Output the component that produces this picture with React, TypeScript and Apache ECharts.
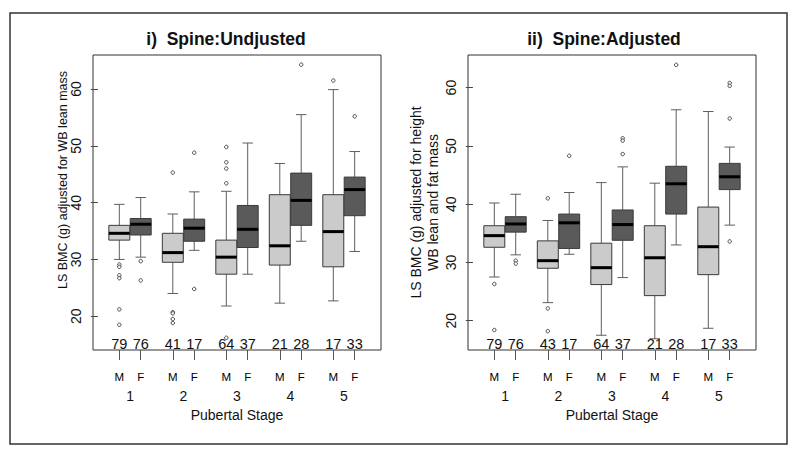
import React, { useEffect, useRef } from 'react';
import * as echarts from 'echarts';

const stages = ['1', '2', '3', '4', '5'];
const sexes = ['M', 'F'];
const xTitle = 'Pubertal Stage';

const titleUnadj = 'i)  Spine:Undjusted';
const titleAdj = 'ii)  Spine:Adjusted';
const yTitleUnadj = 'LS BMC (g) adjusted for WB lean mass';
const yTitleAdj1 = 'LS BMC (g) adjusted for height';
const yTitleAdj2 = 'WB lean and fat mass';

const yTicks = [20, 30, 40, 50, 60];

// Box order: M1, F1, M2, F2, ... M5, F5
// [lower whisker, Q1, median, Q3, upper whisker]
const unadjBoxes = [
  [30.0, 33.4, 34.6, 36.0, 39.7],
  [30.4, 34.3, 36.2, 37.2, 40.9],
  [24.0, 29.5, 31.2, 34.6, 38.0],
  [31.6, 33.2, 35.5, 37.1, 41.9],
  [21.8, 27.4, 30.4, 33.4, 42.0],
  [27.4, 32.1, 35.3, 39.5, 50.5],
  [22.3, 29.0, 32.4, 41.4, 46.9],
  [33.2, 36.0, 40.4, 45.2, 55.5],
  [22.7, 28.7, 34.9, 41.4, 59.9],
  [31.4, 37.7, 42.3, 44.5, 49.0],
];
const unadjOutliers = [
  [29.1, 28.7, 27.2, 26.7, 21.2, 18.5],
  [29.7, 26.3],
  [45.3, 20.7, 20.5, 19.5, 18.8],
  [48.8, 24.8],
  [49.8, 47.1, 46.0, 43.4, 16.2],
  [],
  [],
  [64.3],
  [61.5],
  [55.2],
];
const unadjCounts = [79, 76, 41, 17, 64, 37, 21, 28, 17, 33];

const adjBoxes = [
  [27.5, 32.6, 34.6, 36.3, 40.2],
  [31.3, 35.2, 36.6, 37.85, 41.7],
  [23.1, 29.0, 30.3, 33.7, 37.2],
  [31.4, 32.4, 36.8, 38.3, 42.0],
  [17.5, 26.2, 29.1, 33.3, 43.7],
  [27.4, 33.8, 36.5, 39.0, 46.4],
  [16.9, 24.3, 30.8, 36.3, 43.6],
  [33.0, 38.3, 43.5, 46.5, 56.2],
  [18.7, 27.9, 32.7, 39.5, 55.9],
  [36.4, 42.5, 44.7, 47.0, 49.8],
];
const adjOutliers = [
  [26.3, 18.4],
  [30.3, 29.8],
  [41.0, 22.1, 18.2],
  [48.3],
  [],
  [51.3, 50.9, 48.6],
  [],
  [63.9],
  [],
  [60.8, 60.3, 54.7, 33.6],
];
const adjCounts = [79, 76, 43, 17, 64, 37, 21, 28, 17, 33];

const FONT = 'Liberation Sans, Arial, Helvetica, sans-serif';
const LIGHT = '#cbcbcb';
const DARK = '#5a5a5a';
const BORDER = '#3a3a3a';
const WHISK = '#5e5e5e';

const posOf = (i: number) => Math.floor(i / 2) * 2.5 + (i % 2) + 1;
const positions = unadjBoxes.map((_, i) => posOf(i));
const stageCenters = stages.map((_, g) => g * 2.5 + 1.5);

function boxRender(params: any, api: any) {
  const x = api.value(0);
  const lo = api.coord([x, api.value(1)]);
  const q1 = api.coord([x, api.value(2)]);
  const md = api.coord([x, api.value(3)]);
  const q3 = api.coord([x, api.value(4)]);
  const hi = api.coord([x, api.value(5)]);
  const kind = api.value(6);
  const w = api.size([0.98, 0])[0];
  const half = w / 2;
  const cap = half / 2;
  const cx = lo[0];
  const ls = { stroke: WHISK, lineWidth: 1 };
  return {
    type: 'group',
    children: [
      { type: 'line', shape: { x1: cx, y1: hi[1], x2: cx, y2: q3[1] }, style: ls },
      { type: 'line', shape: { x1: cx, y1: lo[1], x2: cx, y2: q1[1] }, style: ls },
      { type: 'line', shape: { x1: cx - cap, y1: hi[1], x2: cx + cap, y2: hi[1] }, style: ls },
      { type: 'line', shape: { x1: cx - cap, y1: lo[1], x2: cx + cap, y2: lo[1] }, style: ls },
      {
        type: 'rect',
        shape: { x: cx - half, y: q3[1], width: w, height: q1[1] - q3[1] },
        style: { fill: kind === 0 ? LIGHT : DARK, stroke: BORDER, lineWidth: 1 },
      },
      {
        type: 'line',
        shape: { x1: cx - half, y1: md[1], x2: cx + half, y2: md[1] },
        style: { stroke: '#000', lineWidth: 3 },
      },
    ],
  };
}

function countRender(params: any, api: any) {
  const x = api.value(0);
  const yMin = api.value(2);
  const p = api.coord([x, yMin]);
  return {
    type: 'text',
    x: p[0],
    y: p[1] + 1,
    style: {
      text: String(api.value(1)),
      fontSize: 14.5,
      fontFamily: FONT,
      fill: '#111',
      align: 'center',
      verticalAlign: 'bottom',
    },
  };
}

export default function App() {
  const ref = useRef<HTMLDivElement>(null);
  useEffect(() => {
    if (!ref.current) return;
    const chart = echarts.init(ref.current, undefined, { renderer: 'svg' });

    const panels = [
      { boxes: unadjBoxes, outliers: unadjOutliers, counts: unadjCounts, yMin: 14.05, yMax: 66.0, left: 93 },
      { boxes: adjBoxes, outliers: adjOutliers, counts: adjCounts, yMin: 14.97, yMax: 65.6, left: 468 },
    ];

    const grids: any[] = [];
    const xAxes: any[] = [];
    const yAxes: any[] = [];
    const series: any[] = [];

    panels.forEach((pn, k) => {
      grids.push({
        left: pn.left,
        top: 55,
        width: 288,
        height: 295,
        show: true,
        borderColor: '#333',
        borderWidth: 1,
        backgroundColor: 'transparent',
        containLabel: false,
      });
      xAxes.push({
        type: 'value',
        gridIndex: k,
        min: -0.23,
        max: 13.23,
        position: 'bottom',
        axisLine: { show: false },
        splitLine: { show: false },
        axisTick: {
          show: true,
          customValues: positions,
          length: 10,
          lineStyle: { color: '#555', width: 1 },
        },
        axisLabel: {
          show: true,
          customValues: positions,
          margin: 21,
          fontSize: 11.5,
          fontFamily: FONT,
          color: '#000',
          formatter: (v: number) => {
            const i = positions.findIndex((p) => Math.abs(p - v) < 0.01);
            return i >= 0 ? sexes[i % 2] : '';
          },
        },
      });
      xAxes.push({
        type: 'value',
        gridIndex: k,
        min: -0.23,
        max: 13.23,
        position: 'bottom',
        axisLine: { show: false },
        splitLine: { show: false },
        axisTick: { show: false },
        name: xTitle,
        nameLocation: 'middle',
        nameGap: 58,
        nameTextStyle: { fontSize: 14, fontFamily: FONT, color: '#111' },
        axisLabel: {
          show: true,
          customValues: stageCenters,
          margin: 39,
          fontSize: 14,
          fontFamily: FONT,
          color: '#111',
          formatter: (v: number) => {
            const g = stageCenters.findIndex((c) => Math.abs(c - v) < 0.01);
            return g >= 0 ? stages[g] : '';
          },
        },
      });
      yAxes.push({
        type: 'value',
        gridIndex: k,
        min: pn.yMin,
        max: pn.yMax,
        axisLine: { show: false },
        splitLine: { show: false },
        axisTick: {
          show: true,
          customValues: yTicks,
          length: 7,
          lineStyle: { color: '#444', width: 1 },
        },
        axisLabel: {
          show: true,
          customValues: yTicks,
          rotate: 90,
          margin: 10,
          fontSize: 14,
          fontFamily: FONT,
          color: '#111',
        },
      });

      const boxData = pn.boxes.map((b, i) => [positions[i], ...b, i % 2]);
      series.push({
        type: 'custom',
        xAxisIndex: k * 2,
        yAxisIndex: k,
        renderItem: boxRender,
        data: boxData,
        silent: true,
        z: 2,
      });
      const outData: number[][] = [];
      pn.outliers.forEach((arr, i) => arr.forEach((v) => outData.push([positions[i], v])));
      series.push({
        type: 'scatter',
        xAxisIndex: k * 2,
        yAxisIndex: k,
        data: outData,
        symbol: 'circle',
        symbolSize: 3.5,
        itemStyle: { color: '#fff', borderColor: '#222', borderWidth: 1 },
        silent: true,
        z: 3,
      });
      series.push({
        type: 'custom',
        xAxisIndex: k * 2,
        yAxisIndex: k,
        renderItem: countRender,
        data: pn.counts.map((c, i) => [positions[i], c, pn.yMin]),
        silent: true,
        z: 4,
      });
    });

    const textStyle = (text: string, size: number, bold = false) => ({
      text,
      fontSize: size,
      fontWeight: bold ? 'bold' : 'normal',
      fontFamily: FONT,
      fill: '#111',
      align: 'center',
      verticalAlign: 'middle',
    });

    chart.setOption({
      animation: false,
      backgroundColor: '#fff',
      grid: grids,
      xAxis: xAxes,
      yAxis: yAxes,
      series,
      graphic: [
        {
          type: 'rect',
          shape: { x: 10, y: 13, width: 777, height: 431 },
          style: { fill: 'none', stroke: '#333', lineWidth: 1.5 },
          silent: true,
        },
        { type: 'text', x: 226, y: 39, style: textStyle(titleUnadj, 17.5, true) },
        { type: 'text', x: 604, y: 39, style: textStyle(titleAdj, 17.5, true) },
        { type: 'text', x: 62.5, y: 180, rotation: Math.PI / 2, style: textStyle(yTitleUnadj, 12.5) },
        { type: 'text', x: 416, y: 202.5, rotation: Math.PI / 2, style: textStyle(yTitleAdj1, 14) },
        { type: 'text', x: 433, y: 202.5, rotation: Math.PI / 2, style: textStyle(yTitleAdj2, 14) },
      ],
    });
    return () => chart.dispose();
  }, []);

  return (
    <div
      ref={ref}
      style={{ position: 'fixed', left: 0, top: 0, width: 800, height: 456, background: '#fff' }}
    />
  );
}
